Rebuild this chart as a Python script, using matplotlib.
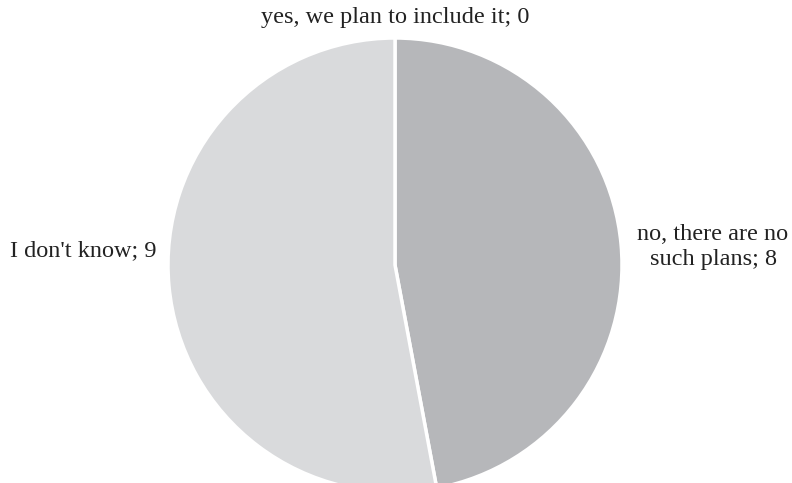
import matplotlib
matplotlib.use("Agg")
import matplotlib.pyplot as plt

categories = ["yes, we plan to include it", "no, there are no\nsuch plans", "I don't know"]
values = [0, 8, 9]
colors = ["#a6a7aa", "#b6b7ba", "#d9dadc"]

W, H = 792, 483
fig = plt.figure(figsize=(W / 100, H / 100), dpi=100)
ax = fig.add_axes([0, 0, 1, 1])

cx, cy, r = 395, H - 265, 227
ax.pie(values, colors=colors, startangle=90, counterclock=False,
       center=(cx, cy), radius=r, frame=True,
       wedgeprops=dict(edgecolor="white", linewidth=2.5))
ax.set_xlim(0, W)
ax.set_ylim(0, H)
ax.set_aspect("equal")
ax.axis("off")

font = dict(family="Liberation Serif", fontsize=17.5, color="#222222")
ax.text(395, H - 18, f"{categories[0]}; {values[0]}", ha="center", va="center", **font)
ax.text(713, H - 247, f"{categories[1]}; {values[1]}", ha="center", va="center",
        multialignment="center", linespacing=1.3, **font)
ax.text(157, H - 251, f"{categories[2]}; {values[2]}", ha="right", va="center", **font)

fig.savefig("out.png", dpi=100)
